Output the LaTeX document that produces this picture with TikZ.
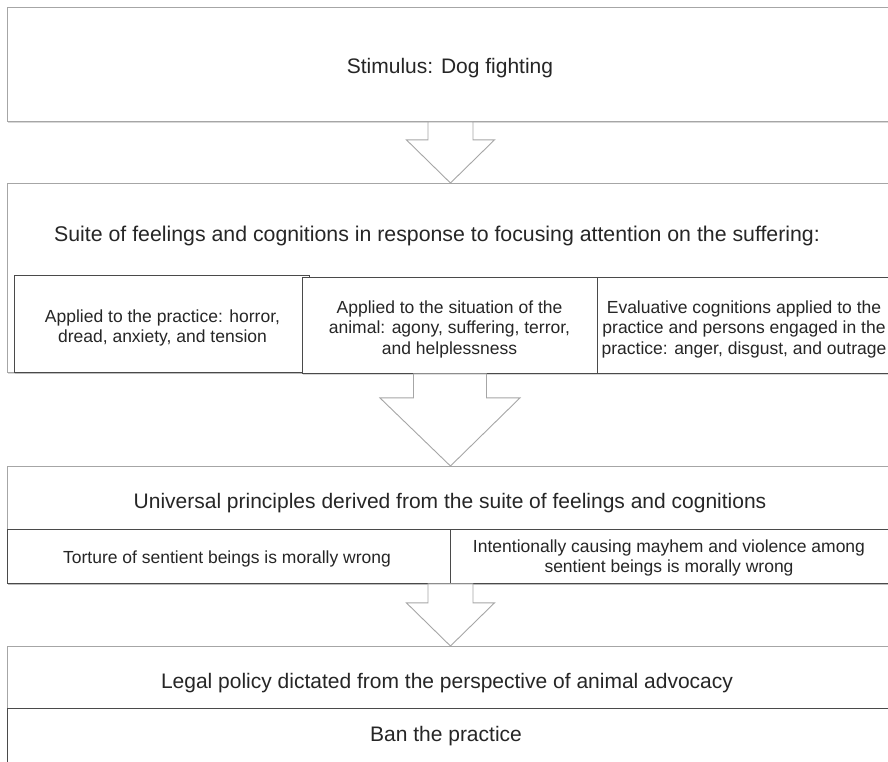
\documentclass[tikz,border=0pt]{standalone}
\usepackage{fontspec}
\setmainfont{Liberation Sans}
\usetikzlibrary{shadows,calc}
\definecolor{lightedge}{HTML}{A6A6A6}
\definecolor{darkedge}{HTML}{4A4A4A}
\definecolor{txt}{HTML}{262626}
\begin{document}
\begin{tikzpicture}[x=1pt,y=-1pt,
  outerbox/.style={draw=lightedge, fill=white, line width=0.9pt, rectangle, inner sep=0pt, anchor=north west,
    drop shadow={shadow xshift=0.4pt, shadow yshift=-1.5pt, opacity=0.3}},
  innerbox/.style={draw=darkedge, fill=white, line width=0.9pt, rectangle, inner sep=0pt, anchor=north west,
    drop shadow={shadow xshift=0.4pt, shadow yshift=-1.5pt, opacity=0.3}},
  bigarrow/.style={draw=lightedge, fill=white, line width=0.9pt, line join=miter},
  headtxt/.style={font=\fontsize{21}{25}\selectfont, text=txt, inner sep=0pt},
  subtxt/.style={font=\fontsize{17.5}{20.5}\selectfont, text=txt, inner sep=0pt, align=center}]
\useasboundingbox (0,0) rectangle (888,761);
\clip (0,0) rectangle (888,761);
\fill[white] (0,0) rectangle (888,761);

% boxes
\node[outerbox, minimum width=886pt, minimum height=114pt] (stimbox) at (7,7) {};
\node[outerbox, minimum width=886pt, minimum height=189pt] (suitebox) at (7,183) {};
\node[innerbox, minimum width=295pt, minimum height=97pt] (boxa) at (14,275) {};
\node[innerbox, minimum width=295pt, minimum height=96pt] (boxb) at (302,277) {};
\node[innerbox, minimum width=296pt, minimum height=96pt] (boxc) at (597,277) {};
\node[outerbox, minimum width=886pt, minimum height=117pt] (univbox) at (7,466) {};
\node[innerbox, minimum width=443pt, minimum height=54pt] (torturebox) at (7,529) {};
\node[innerbox, minimum width=443pt, minimum height=54pt] (mayhembox) at (450,529) {};
\node[outerbox, minimum width=886pt, minimum height=130pt] (legalbox) at (7,646) {};
\node[innerbox, minimum width=886pt, minimum height=70pt] (banbox) at (7,708) {};

% block arrows
\draw[bigarrow] ($(stimbox.south)+(-22.5,0)$) -- ($(stimbox.south)+(22.5,0)$) -- ($(stimbox.south)+(22.5,18)$)
  -- ($(stimbox.south)+(44,18)$) -- (suitebox.north) -- ($(stimbox.south)+(-44,18)$) -- ($(stimbox.south)+(-22.5,18)$) -- cycle;
\draw[bigarrow] ($(boxb.south)+(-36.5,0)$) -- ($(boxb.south)+(36.5,0)$) -- ($(boxb.south)+(36.5,24)$)
  -- ($(boxb.south)+(70,24)$) -- (univbox.north) -- ($(boxb.south)+(-70,24)$) -- ($(boxb.south)+(-36.5,24)$) -- cycle;
\draw[bigarrow] ($(univbox.south)+(-22.5,0)$) -- ($(univbox.south)+(22.5,0)$) -- ($(univbox.south)+(22.5,19)$)
  -- ($(univbox.south)+(44,19)$) -- (legalbox.north) -- ($(univbox.south)+(-44,19)$) -- ($(univbox.south)+(-22.5,19)$) -- cycle;

% texts
\node[headtxt, anchor=base] (stimtxt) at (450,73.5) {Stimulus: Dog fighting};
\node[headtxt, anchor=base, font=\fontsize{21.3}{25}\selectfont] (suitetxt) at (437,241) {Suite of feelings and cognitions in response to focusing attention on the suffering:};
\node[subtxt] (txta) at (162.5,328) {Applied to the practice: horror,\\dread, anxiety, and tension};
\node[subtxt] (txtb) at (449.5,329) {Applied to the situation of the\\animal: agony, suffering, terror,\\and helplessness};
\node[subtxt] (txtc) at (744,329) {Evaluative cognitions applied to the\\practice and persons engaged in the\\practice: anger, disgust, and outrage};
\node[headtxt, anchor=base] (univtxt) at (450,508) {Universal principles derived from the suite of feelings and cognitions};
\node[subtxt, anchor=base] (torturetxt) at (227,563) {Torture of sentient beings is morally wrong};
\node[subtxt] (mayhemtxt) at (669,558) {Intentionally causing mayhem and violence among\\sentient beings is morally wrong};
\node[headtxt, anchor=base] (legaltxt) at (447,688) {Legal policy dictated from the perspective of animal advocacy};
\node[headtxt, anchor=base] (bantxt) at (446,741) {Ban the practice};
\end{tikzpicture}
\end{document}
